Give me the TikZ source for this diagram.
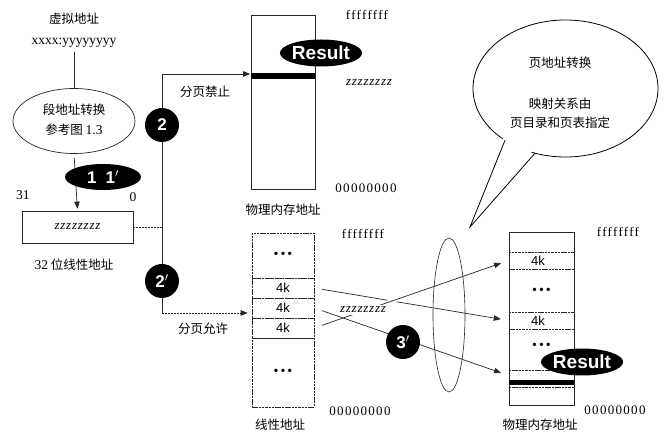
\documentclass[tikz,border=0pt]{standalone}
\usepackage{fontspec}
\setmainfont{Liberation Serif}
\newfontfamily\cjk{Noto Sans CJK SC}
\newfontfamily\sansf{Liberation Sans}
\newfontfamily\hexf[LetterSpace=10]{Liberation Serif}
\newfontfamily\zzf[LetterSpace=6]{Liberation Serif}
\usetikzlibrary{shapes.geometric,arrows.meta,calc}
\tikzset{
  ln/.style={line width=0.7pt,draw=black!85},
  arr/.style={ln,-{Triangle[length=7pt,width=5.5pt]}},
  cjkt/.style={font=\cjk\fontsize{12.5}{15}\selectfont,inner sep=1pt},
  lat/.style={font=\fontsize{13.5}{15}\selectfont,inner sep=1pt},
  hex/.style={font=\hexf\fontsize{13}{15}\selectfont,inner sep=1pt},
  zz/.style={font=\zzf\itshape\fontsize{13}{15}\selectfont,inner sep=1pt},
  blk/.style={circle,fill=black,text=white,minimum size=34pt,inner sep=0pt,font=\sansf\bfseries\fontsize{17}{17}\selectfont},
  res/.style={ellipse,fill=black,text=white,minimum width=78pt,minimum height=27pt,inner sep=0pt,font=\sansf\bfseries\fontsize{19}{19}\selectfont},
  membox/.style={ln,rectangle,inner sep=0pt},
  rowbox/.style={line width=0.6pt,draw=black!85,dash pattern=on 2.5pt off 0.8pt,rectangle,inner sep=0pt,minimum width=62pt},
  kk/.style={font=\sansf\fontsize{13}{13}\selectfont},
  dots/.style={font=\fontsize{14}{14}\selectfont,inner sep=0pt},
}
\begin{document}
\begin{tikzpicture}[x=1pt,y=-1pt]
\useasboundingbox[fill=white] (0,0) rectangle (670,435);

% ---------- left column ----------
\node[cjkt] (virt) at (74,19) {虚拟地址};
\node[lat] (vaddr) at (74,43) {xxxx:yyyyyyyy};
\node[ln,ellipse,minimum width=122pt,minimum height=65pt,inner sep=0pt] (seg) at (74,121) {};
\node[cjkt] (segt1) at (74,110) {段地址转换};
\node[cjkt] (segt2) at (74,130) {参考图 {\rmfamily\fontsize{13.5}{15}\selectfont 1.3}};
\node[ln,rectangle,minimum width=111pt,minimum height=32pt,inner sep=0pt] (lin) at (77.5,227) {};
\node[zz] at (lin.center) {zzzzzzzz};
\node[lat] (t31) at (23,195) {31};
\node[lat] (t0) at (133,197) {0};
\node[cjkt] (lincap) at (74,265) {{\rmfamily\fontsize{13.5}{15}\selectfont 32} 位线性地址};

\draw[ln,shorten <=3pt] (vaddr.south) -- (seg.north);
\draw[arr,shorten <=4pt,shorten >=2pt] (seg.south) -- (lin.north);
\node[res,minimum width=76pt,minimum height=26pt] (b11) at (103,177) {\fontsize{17}{17}\selectfont 1\hspace{9pt}1$'$};

% ---------- junction ----------
\coordinate (jtop) at (162,74);
\coordinate (jbot) at (162,313);
\coordinate (jm) at (162,227);
\draw[ln] (jtop) -- (jbot);
\draw[ln,dash pattern=on 2pt off 1pt] (lin.east) -- (jm);
\node[blk] (c2) at (162,125) {2};
\node[blk] (c2p) at (162,281) {2$'$};
\node[cjkt] (nopg) at (205,92) {分页禁止};
\node[cjkt] (pg) at (203,329) {分页允许};

% ---------- physical memory 1 ----------
\node[membox,minimum width=64pt,minimum height=174pt] (phys1) at (283,102) {};
\node[rectangle,fill=black,minimum width=64pt,minimum height=6pt,inner sep=0pt] (bar1) at (283,76) {};
\node[res] (res1) at (321,53) {Result};
\node[hex] (p1f) at (367,15) {ffffffff};
\node[zz] (p1z) at (369,83) {zzzzzzzz};
\node[hex] (p1o) at (366,188) {00000000};
\node[cjkt] (p1cap) at (283,210) {物理内存地址};
\draw[arr,shorten >=0.5pt] (jtop) -- (jtop -| phys1.west);

% ---------- linear address space ----------
\node[rowbox,minimum height=45pt] (ltop) at (283,255.5) {};
\node[rowbox,minimum height=20pt] (lr1) at (283,288) {};
\node[rowbox,minimum height=20pt] (lr2) at (283,308) {};
\node[rowbox,minimum height=20pt] (lr3) at (283,328) {};
\node[rowbox,minimum height=69pt] (lbot) at (283,372.5) {};
\node[dots] at (ltop.center) {•\hspace{2pt}•\hspace{2pt}•};
\node[dots] at (lbot.center) {•\hspace{2pt}•\hspace{2pt}•};
\node[kk] at (lr1.center) {4k};
\node[kk] at (lr2.center) {4k};
\node[kk] at (lr3.center) {4k};
\node[hex] (lf) at (363,234) {ffffffff};
\node[hex] (lo) at (360,411) {00000000};
\node[cjkt] (lcap) at (280,425) {线性地址};
\draw[ln,dash pattern=on 2pt off 1pt,-{Triangle[length=7pt,width=5.5pt]},shorten >=4pt] (jbot) -- (jbot -| ltop.west);

% ---------- physical memory 2 ----------
\node[membox,minimum width=65pt,minimum height=173pt] (phys2) at (541.5,318.5) {};
\node[rowbox,minimum width=65pt,minimum height=17pt] (pr1) at (541.5,260.5) {};
\node[rowbox,minimum width=65pt,minimum height=17pt] (pr2) at (541.5,320.5) {};
\node[rowbox,minimum width=65pt,minimum height=9pt,draw=none] (pr3) at (541.5,375.5) {};
\draw[line width=0.6pt,draw=black!85,dash pattern=on 2.5pt off 0.8pt] (pr3.north west) -- (pr3.north east);
\node[rectangle,fill=black,minimum width=65pt,minimum height=5pt,inner sep=0pt] (bar2) at (541.5,382.5) {};
\draw[line width=0.6pt,draw=black!85,dash pattern=on 2.5pt off 0.8pt] ($(bar2.south west)+(0,2.5)$) -- ($(bar2.south east)+(0,2.5)$);
\node[kk] at (538,260.5) {4k};
\node[kk] at (538,320.5) {4k};
\node[dots] at (541.5,291) {•\hspace{2pt}•\hspace{2pt}•};
\node[dots] at (541.5,346) {•\hspace{2pt}•\hspace{2pt}•};
\node[res] (res2) at (582,362) {Result};
\node[hex] (p2f) at (618,232) {ffffffff};
\node[hex] (p2o) at (615,410) {00000000};
\node[cjkt] (p2cap) at (540,425) {物理内存地址};

% ---------- mapping lines ----------
\draw[arr,shorten <=8pt,shorten >=8pt] (lr1.east) -- (pr2.west);
\draw[arr,shorten <=8pt,shorten >=8pt,preaction={draw=white,line width=4pt,-}] (lr3.east) -- (pr1.west);
\draw[arr,shorten <=8pt,shorten >=8pt] (lr2.east) -- (pr3.west);
\node[zz,fill=white,inner sep=2pt] (zm) at (363,310) {zzzzzzzz};
\node[blk] (c3p) at (403,342) {3$'$};
\draw[line width=0.6pt,draw=black!85] (449,315) ellipse [x radius=16, y radius=77];

% ---------- speech bubble ----------
\draw[line width=0.8pt,fill=white] (565.5,88.5) ellipse [x radius=92.5, y radius=68.5];
\fill[white] (505,133) -- (470,227) -- (535,148) -- cycle;
\draw[line width=0.8pt] (505,140.3) -- (470,227) -- (535,153.2);
\node[cjkt] (bt1) at (560,63) {页地址转换};
\node[cjkt] (bt2) at (560,104) {映射关系由};
\node[cjkt] (bt3) at (560,123) {页目录和页表指定};
\end{tikzpicture}
\end{document}
